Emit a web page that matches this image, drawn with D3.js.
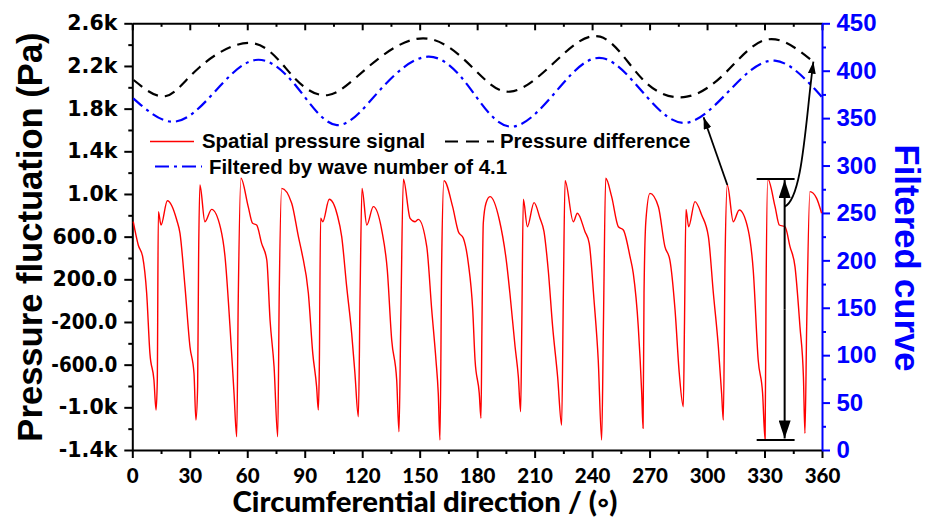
<!DOCTYPE html>
<html>
<head>
<meta charset="utf-8">
<script src="https://cdn.jsdelivr.net/npm/d3@7"></script>
<style>
  html, body { margin: 0; padding: 0; background: #fff; }
  svg { display: block; }
</style>
</head>
<body>
<script>
// Spatial pressure signal around the circumference: [angle (deg), pressure (Pa)]
const pressureSignal = [
  [0.5,740],[3.1,522],[5.4,412],[7.5,69],[9.2,-494],[11.3,-744],[12.4,-1025],[13.05,-744],
  [13.6,834],[15,709],[18.3,937],[23.2,756],[24.9,631],[27.5,131],[30.1,-432],[32.2,-681],
  [33.2,-1119],[34.1,-806],[34.6,381],[35.3,1084],[37.9,740],[41.4,856],[46.1,678],[48.4,412],
  [51,-244],[53.1,-869],[54.5,-1276],[55.3,6],[56.7,1147],[60.5,881],[62.8,725],[64.9,709],
  [67.5,537],[70.2,381],[71.9,-181],[74,-619],[75.9,-1276],[76.7,69],[78,1053],[83.2,913],
  [86.7,600],[88.5,450],[91.9,69],[94.2,-494],[96.2,-806],[97.1,-1025],[97.6,-650],[98.3,772],
  [99.4,740],[102.8,950],[107,803],[109.3,600],[111.9,131],[114.5,-306],[116.2,-681],[118,-1088],
  [118.9,69],[119.9,1053],[122.4,709],[125.8,881],[130.2,662],[133.1,287],[135.4,-369],[138,-744],
  [139.2,-1229],[140.1,-244],[141.5,1138],[145,772],[147.6,740],[149.3,762],[153.7,506],[156.3,-88],
  [158.5,-556],[159.7,-869],[160.6,-1306],[161.5,381],[162.7,1124],[167.2,881],[170.2,647],[172.8,584],
  [175.4,350],[177.7,-88],[178.9,-556],[181.1,-869],[182,-1103],[182.5,-244],[183.2,725],[184.6,913],
  [186.7,975],[191.6,756],[195.4,350],[197.1,69],[199.8,-432],[201.5,-713],[202.7,-1041],[203.3,-244],
  [204.1,950],[206.2,693],[209.7,919],[212.8,772],[214.9,647],[217.1,287],[219.4,-244],[222,-713],
  [224.1,-1166],[225,69],[225.9,1124],[230.2,740],[232.3,819],[236.3,647],[238.5,537],[241,6],
  [243.2,-556],[245,-1306],[245.9,-244],[247.1,1147],[250.2,975],[253.7,693],[256.3,662],[259.8,412],
  [261.5,256],[264.1,-244],[265.9,-869],[266.6,-1197],[267.1,69],[268.1,756],[270.2,1006],[274.6,881],
  [278,506],[280.6,381],[283.3,-88],[285.5,-681],[287.6,-994],[288.2,-244],[289,856],[290.4,693],
  [293.7,928],[297.2,803],[300.7,600],[303.3,69],[305.9,-432],[307.6,-869],[308.5,-1119],[309.4,381],
  [310.6,1084],[313.7,740],[316.8,850],[321.5,662],[324.1,287],[326.7,-556],[329,-869],[330.3,-1306],
  [330.8,69],[331.7,1140],[335.5,881],[337.7,709],[340.7,693],[343.3,506],[345.9,319],[348.5,-244],
  [350.3,-713],[351.1,-1244],[352,-244],[353.7,1022],[357.2,959],[359.8,819]
];

// Pressure difference (right axis units): [angle, value]
const pressureDifference = [
  [0.7,390.2],[17.6,373.3],[35.4,404.2],[63.1,428.9],[84,393.7],[102.3,374.4],[122.3,402.5],
  [151.8,434.2],[178,402.5],[197.2,377.9],[219.8,407.8],[244.2,435.9],[266.7,390.2],[289.4,372.6],
  [310.2,399],[331.8,433.1],[355.5,409.5]
];

// Curve filtered by wave number 4.1 (right axis): [angle, value]
const filteredCurve = [
  [0.5,370.9],[21.6,346.2],[42.3,376.2],[64.2,411.3],[85.8,383.1],[106.8,342.7],[129.3,379.7],
  [154.4,414.8],[176.3,381.4],[198.1,341.0],[223.3,383.1],[245.7,413.1],[268.5,372.6],[289.4,345.2],
  [312,379.7],[335.4,410.6],[359.8,372.6]
];

// Axis ticks
const xTicks = [0, 30, 60, 90, 120, 150, 180, 210, 240, 270, 300, 330, 360];
const xMinorTicks = [15, 45, 75, 105, 135, 165, 195, 225, 255, 285, 315, 345];
const yLeftTicks = [-1400, -1000, -600, -200, 200, 600, 1000, 1400, 1800, 2200, 2600];
const yLeftMinorTicks = [-1200, -800, -400, 0, 400, 800, 1200, 1600, 2000, 2400];
const yRightTicks = [0, 50, 100, 150, 200, 250, 300, 350, 400, 450];
const yRightMinorTicks = [25, 75, 125, 175, 225, 275, 325, 375, 425];

// Annotation anchors (data units)
const amplitudeSpan = { angle: 340.5, barFrom: 325.9, barTo: 345.7, top: 1140, bottom: -1306 };
const peakPointer = { from: [310.6, 1084], to: [298.2, 351] };
const diffPointer = { from: [340.5, 881], to: [355.5, 409.5] };

const W = 934, H = 518;
const svg = d3.select("body").append("svg").attr("width", W).attr("height", H);

const x = d3.scaleLinear().domain([0, 360]).range([132.3, 822]);
const yL = d3.scaleLinear().domain([-1400, 2600]).range([450, 23.3]);
const yR = d3.scaleLinear().domain([0, 450]).range([450, 23.3]);

const BLUE = "#0000ff";
const axisFontY = "'DejaVu Sans', Verdana, sans-serif";
const arial = "'Liberation Sans', Arial, sans-serif";
const lato = "Lato, 'Open Sans', sans-serif";

function fmtPa(v) {
  if (Math.abs(v) >= 1000) return (v / 1000).toFixed(1) + "k";
  return v.toFixed(1);
}

function styleAxis(g, color) {
  g.select(".domain").attr("stroke", color).attr("stroke-width", 2);
  g.selectAll(".tick line").attr("stroke", color).attr("stroke-width", 2);
}

// ---- bottom axis
const gB = svg.append("g").attr("transform", `translate(0,${yL(-1400)})`)
  .call(d3.axisBottom(x).tickValues(xTicks).tickSize(8).tickSizeOuter(0).tickFormat(d3.format("d")));
styleAxis(gB, "#000");
gB.selectAll(".tick text").attr("y", 33).attr("dy", 0)
  .attr("font-family", lato).attr("font-weight", 900).attr("font-size", 20.5).attr("fill", "#000");
const gBm = svg.append("g").attr("transform", `translate(0,${yL(-1400)})`)
  .call(d3.axisBottom(x).tickValues(xMinorTicks).tickSize(4).tickSizeOuter(0).tickFormat(""));
styleAxis(gBm, "#000"); gBm.select(".domain").remove();

// ---- top axis (inward ticks)
const gT = svg.append("g").attr("transform", `translate(0,${yL(2600)})`)
  .call(d3.axisTop(x).tickValues(xTicks).tickSize(-7).tickSizeOuter(0).tickFormat(""));
styleAxis(gT, "#000");
const gTm = svg.append("g").attr("transform", `translate(0,${yL(2600)})`)
  .call(d3.axisTop(x).tickValues(xMinorTicks).tickSize(-3.5).tickSizeOuter(0).tickFormat(""));
styleAxis(gTm, "#000"); gTm.select(".domain").remove();

// ---- left axis
const gL = svg.append("g").attr("transform", `translate(${x(0)},0)`)
  .call(d3.axisLeft(yL).tickValues(yLeftTicks).tickSize(8).tickSizeOuter(0).tickFormat(fmtPa));
styleAxis(gL, "#000");
gL.selectAll(".tick text").attr("x", -15)
  .attr("font-family", axisFontY).attr("font-weight", 700).attr("font-size", 20.5).attr("fill", "#000")
  .each(function (d) {
    const t = fmtPa(d);
    if (t.length > 5) d3.select(this).attr("textLength", 66).attr("lengthAdjust", "spacingAndGlyphs");
  });
const gLm = svg.append("g").attr("transform", `translate(${x(0)},0)`)
  .call(d3.axisLeft(yL).tickValues(yLeftMinorTicks).tickSize(4).tickSizeOuter(0).tickFormat(""));
styleAxis(gLm, "#000"); gLm.select(".domain").remove();

// ---- right axis (blue)
const gR = svg.append("g").attr("transform", `translate(${x(360)},0)`)
  .call(d3.axisRight(yR).tickValues(yRightTicks).tickSize(8).tickSizeOuter(0).tickFormat(d3.format("d")));
styleAxis(gR, BLUE);
gR.selectAll(".tick text").attr("x", 14.5)
  .attr("font-family", arial).attr("font-weight", 700).attr("font-size", 24).attr("fill", BLUE);
const gRm = svg.append("g").attr("transform", `translate(${x(360)},0)`)
  .call(d3.axisRight(yR).tickValues(yRightMinorTicks).tickSize(4).tickSizeOuter(0).tickFormat(""));
styleAxis(gRm, BLUE); gRm.select(".domain").remove();

// ---- axis titles
svg.append("text")
  .attr("transform", `translate(42,237) rotate(-90)`)
  .attr("text-anchor", "middle")
  .attr("font-family", arial).attr("font-weight", 700).attr("font-size", 34.6)
  .text("Pressure fluctuation (Pa)");

svg.append("text")
  .attr("transform", `translate(895,258) rotate(90)`)
  .attr("text-anchor", "middle").attr("fill", BLUE)
  .attr("font-family", arial).attr("font-weight", 700).attr("font-size", 34.6)
  .text("Filtered curve");

svg.append("text")
  .attr("x", 425).attr("y", 512)
  .attr("text-anchor", "middle")
  .attr("font-family", lato).attr("font-weight", 900).attr("font-size", 27.5)
  .attr("textLength", 385).attr("lengthAdjust", "spacingAndGlyphs")
  .text("Circumferential direction / (\u25E6)");

// ---- series
const lineL = d3.line().x(d => x(d[0])).y(d => yL(d[1])).curve(d3.curveMonotoneX);
const lineR = d3.line().x(d => x(d[0])).y(d => yR(d[1])).curve(d3.curveNatural);

svg.append("path").datum(pressureSignal)
  .attr("d", lineL).attr("fill", "none").attr("stroke", "#ff0000").attr("stroke-width", 1.4)
  .attr("stroke-linejoin", "round");

svg.append("path").datum(filteredCurve)
  .attr("d", lineR).attr("fill", "none").attr("stroke", BLUE).attr("stroke-width", 2.2)
  .attr("stroke-dasharray", "12,5,3,5");

svg.append("path").datum(pressureDifference)
  .attr("d", lineR).attr("fill", "none").attr("stroke", "#000").attr("stroke-width", 2.2)
  .attr("stroke-dasharray", "11,7");

// ---- annotations
const defs = svg.append("defs");
function marker(id, w, h) {
  defs.append("marker").attr("id", id)
    .attr("viewBox", `0 0 ${h} ${w}`).attr("refX", h).attr("refY", w / 2)
    .attr("markerWidth", h).attr("markerHeight", w).attr("markerUnits", "userSpaceOnUse")
    .attr("orient", "auto")
    .append("path").attr("d", `M0,0L${h},${w / 2}L0,${w}Z`).attr("fill", "#000");
}
marker("bigHead", 12, 18);
marker("smallHead", 8, 12);

const ann = svg.append("g").attr("stroke", "#000").attr("fill", "none");
// amplitude bars
[amplitudeSpan.top, amplitudeSpan.bottom].forEach(v => {
  ann.append("line")
    .attr("x1", x(amplitudeSpan.barFrom)).attr("x2", x(amplitudeSpan.barTo))
    .attr("y1", yL(v)).attr("y2", yL(v)).attr("stroke-width", 2);
});
// double-headed arrow
const midY = (yL(amplitudeSpan.top) + yL(amplitudeSpan.bottom)) / 2;
ann.append("line").attr("x1", x(amplitudeSpan.angle)).attr("x2", x(amplitudeSpan.angle))
  .attr("y1", midY).attr("y2", yL(amplitudeSpan.top) + 1).attr("stroke-width", 2)
  .attr("marker-end", "url(#bigHead)");
ann.append("line").attr("x1", x(amplitudeSpan.angle)).attr("x2", x(amplitudeSpan.angle))
  .attr("y1", midY).attr("y2", yL(amplitudeSpan.bottom) - 1.5).attr("stroke-width", 2)
  .attr("marker-end", "url(#bigHead)");

// pointer from the red peak to the filtered curve
ann.append("line")
  .attr("x1", x(peakPointer.from[0])).attr("y1", yL(peakPointer.from[1]))
  .attr("x2", x(peakPointer.to[0])).attr("y2", yR(peakPointer.to[1]))
  .attr("stroke-width", 1.8).attr("marker-end", "url(#smallHead)");

// curved pointer to the pressure difference curve
const s = [x(diffPointer.from[0]), yL(diffPointer.from[1])];
const e = [x(diffPointer.to[0]), yR(diffPointer.to[1])];
const cp = d3.path();
cp.moveTo(s[0], s[1]);
cp.bezierCurveTo(s[0] + 18, s[1] - 8, e[0] - 8, e[1] + 60, e[0], e[1]);
ann.append("path").attr("d", cp.toString()).attr("stroke-width", 1.8)
  .attr("marker-end", "url(#smallHead)");

// ---- legend
const leg = svg.append("g")
  .attr("font-family", arial).attr("font-weight", 700).attr("font-size", 20.4);
leg.append("line").attr("x1", 150).attr("x2", 194).attr("y1", 141.5).attr("y2", 141.5)
  .attr("stroke", "#ff0000").attr("stroke-width", 1.4);
leg.append("text").attr("x", 202).attr("y", 148).text("Spatial pressure signal");
leg.append("line").attr("x1", 445).attr("x2", 494).attr("y1", 141.5).attr("y2", 141.5)
  .attr("stroke", "#000").attr("stroke-width", 2.2).attr("stroke-dasharray", "13,8");
leg.append("text").attr("x", 500).attr("y", 148).text("Pressure difference");
leg.append("line").attr("x1", 155).attr("x2", 202).attr("y1", 166.5).attr("y2", 166.5)
  .attr("stroke", BLUE).attr("stroke-width", 2.2).attr("stroke-dasharray", "14,5,3,5");
leg.append("text").attr("x", 209).attr("y", 174).text("Filtered by wave number of 4.1");
</script>
</body>
</html>
